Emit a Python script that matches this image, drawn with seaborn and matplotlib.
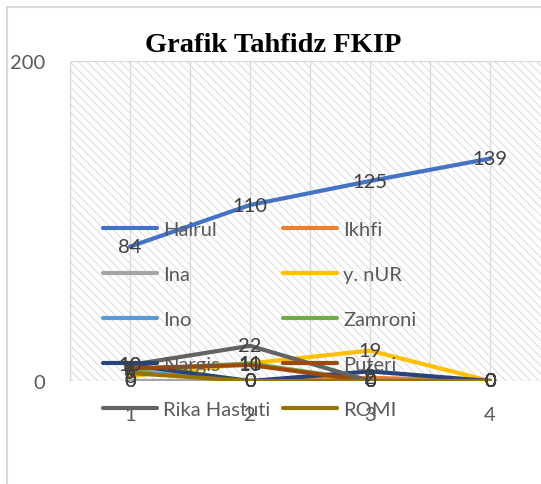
import matplotlib
matplotlib.use("Agg")
import matplotlib.pyplot as plt
import seaborn as sns
import pandas as pd
from matplotlib.patches import Rectangle
from matplotlib.lines import Line2D

categories = [1, 2, 3, 4]
series_names = ["Hairul", "Ikhfi", "Ina", "y. nUR", "Ino", "Zamroni",
                "Nargis", "Puteri", "Rika Hastuti", "ROMI"]
hairul = [84, 110, 125, 139]
ikhfi = [0, 0, 2, 0]
ina = [0, 0, 0, 0]
y_nur = [3, 11, 19, 0]
ino = [6, 0, 0, 0]
zamroni = [7, 11, 0, 0]
nargis = [10, 0, 6, 0]
puteri = [8, 10, 0, 0]
rika = [10, 22, 0, 0]
romi = [5, 0, 0, 0]
values = [hairul, ikhfi, ina, y_nur, ino, zamroni, nargis, puteri, rika, romi]
colors = ["#4472C4", "#ED7D31", "#A5A5A5", "#FFC000", "#5B9BD5", "#70AD47",
          "#264478", "#9E480E", "#636363", "#997300"]
y_ticks = [0, 200]

rows = []
for name, vals in zip(series_names, values):
    for c, v in zip(categories, vals):
        rows.append({"Kategori": c, "Nilai": v, "Nama": name})
df = pd.DataFrame(rows)

sns.set_theme(style="white")
plt.rcParams["font.family"] = ["Lato", "DejaVu Sans"]
plt.rcParams["hatch.linewidth"] = 0.6

FS = 14.5
W, H = 541, 485
fig = plt.figure(figsize=(W / 100, H / 100), dpi=100)
ax = fig.add_axes([70 / W, (H - 382) / H, (W - 70) / W, 320 / H])

# chart border (left & top visible)
fig.add_artist(Line2D([7 / W, 7 / W], [0, 1 - 8 / H], transform=fig.transFigure,
                      color="#D9D9D9", lw=1.5))
fig.add_artist(Line2D([7 / W, 1], [1 - 8 / H, 1 - 8 / H], transform=fig.transFigure,
                      color="#D9D9D9", lw=1.5))

# hatched plot area
ax.patch.set_visible(False)
ax.add_patch(Rectangle((0, 0), 1, 1, transform=ax.transAxes, facecolor="white",
                       edgecolor="#D6D6D6", hatch="\\\\\\\\", lw=0, zorder=0))

palette = dict(zip(series_names, colors))
sns.lineplot(data=df, x="Kategori", y="Nilai", hue="Nama", hue_order=series_names,
             palette=palette, lw=3, ax=ax, legend=False, zorder=3)

for name, vals in zip(series_names, values):
    for c, v in zip(categories, vals):
        ax.text(c, v, str(v), ha="center", va="center", fontsize=FS,
                color="#404040", zorder=5)

ax.set_xlim(0.5, 4.425)
ax.set_ylim(0, 200)
for gx in [0.5 + 0.5 * i for i in range(9)]:
    ax.axvline(gx, color="#D9D9D9", lw=1, zorder=1)
for gy in y_ticks:
    ax.axhline(gy, color="#D9D9D9", lw=1, zorder=1)

ax.set_xticks(categories)
ax.set_xticklabels([str(c) for c in categories])
ax.set_yticks(y_ticks)
ax.set_yticklabels([str(t) for t in y_ticks])
ax.tick_params(axis="x", length=0, pad=18, labelsize=FS, labelcolor="#595959")
ax.tick_params(axis="y", length=0, pad=18, labelsize=FS, labelcolor="#595959")
ax.set_xlabel("")
ax.set_ylabel("")
for s in ax.spines.values():
    s.set_visible(False)

# legend in two columns
col1 = [0, 2, 4, 6, 8]
col2 = [1, 3, 5, 7, 9]
leg_kw = dict(frameon=False, fontsize=FS, labelcolor="#595959",
              handlelength=2.7, handletextpad=0.3, labelspacing=1.39,
              borderpad=0, borderaxespad=0, loc="upper left",
              bbox_transform=fig.transFigure)
h1 = [Line2D([], [], color=colors[i], lw=3) for i in col1]
h2 = [Line2D([], [], color=colors[i], lw=3) for i in col2]
leg1 = ax.legend(h1, [series_names[i] for i in col1],
                 bbox_to_anchor=(103 / W, 1 - 222 / H), **leg_kw)
ax.add_artist(leg1)
leg2 = ax.legend(h2, [series_names[i] for i in col2],
                 bbox_to_anchor=(283 / W, 1 - 222 / H), **leg_kw)
for leg in (leg1, leg2):
    leg.set_zorder(4)

fig.text(273 / W, 1 - 46 / H, "Grafik Tahfidz FKIP", ha="center", va="center",
         fontsize=20.5, fontweight="bold", family="Liberation Serif", color="black")

fig.savefig("out.png", dpi=100)
